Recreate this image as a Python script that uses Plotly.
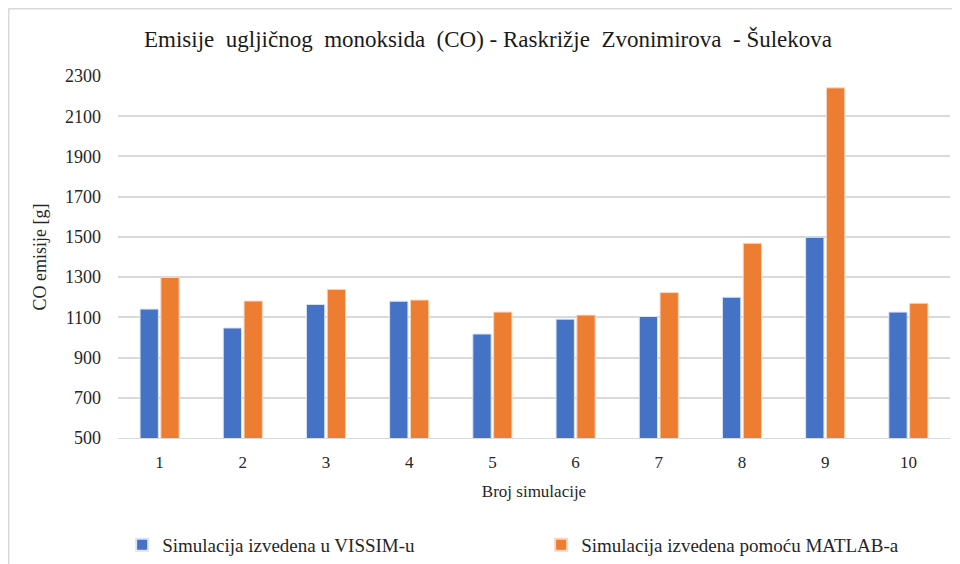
import plotly.graph_objects as go

categories = ["1", "2", "3", "4", "5", "6", "7", "8", "9", "10"]
vissim = [1141, 1047, 1164, 1180, 1017, 1091, 1104, 1200, 1498, 1126]
matlab = [1298, 1181, 1239, 1186, 1126, 1111, 1223, 1468, 2241, 1170]
series_names = ["Simulacija izvedena u VISSIM-u", "Simulacija izvedena pomoću MATLAB-a"]
y_ticks = [500, 700, 900, 1100, 1300, 1500, 1700, 1900, 2100, 2300]

FONT = "Liberation Serif"
fig = go.Figure()
fig.add_trace(go.Bar(x=categories, y=vissim, name=series_names[0], legendwidth=374,
                     marker=dict(color="#4472C4", line=dict(color="#dbe3f4", width=1))))
fig.add_trace(go.Bar(x=categories, y=matlab, name=series_names[1], legendwidth=330,
                     marker=dict(color="#ED7D31", line=dict(color="#f9d6bf", width=1))))

fig.update_layout(
    width=960, height=564,
    margin=dict(l=110, r=18, t=68, b=134),
    paper_bgcolor="white", plot_bgcolor="white",
    font=dict(family=FONT, color="#262626", size=17),
    title=dict(text="Emisije\u00a0 ugljičnog\u00a0 monoksida\u00a0 (CO)\u00a0- Raskrižje\u00a0 Zvonimirova\u00a0 - Šulekova",
               x=0.5, xanchor="center", y=0.946, yanchor="middle",
               font=dict(family=FONT, size=23, color="#1a1a1a")),
    barmode="group", bargap=0.5, bargroupgap=0.12,
    xaxis=dict(title=dict(text="Broj simulacije", font=dict(size=17), standoff=13),
               showgrid=False, showline=True, linecolor="#d9d9d9", linewidth=1,
               ticks="", tickfont=dict(size=17), ticklabelstandoff=9, automargin=False),
    yaxis=dict(title=dict(text="CO emisije [g]", font=dict(size=18), standoff=13),
               range=[500, 2300], tickvals=y_ticks, showgrid=True,
               gridcolor="#d9d9d9", gridwidth=1.5, zeroline=False, showline=False,
               ticks="", tickfont=dict(size=18), ticklabelstandoff=16, automargin=False),
    legend=dict(orientation="h", x=0.005, xanchor="left", xref="paper",
                y=0.0479, yanchor="middle", yref="container",
                font=dict(size=19), itemwidth=30, itemsizing="constant"),
    shapes=[
        dict(type="line", xref="paper", yref="paper", x0=-0.1316, x1=1.05, y0=1.1865, y1=1.1865,
             line=dict(color="#d9d9d9", width=2)),
        dict(type="line", xref="paper", yref="paper", x0=-0.1316, x1=-0.1316, y0=1.1865, y1=-0.4,
             line=dict(color="#d9d9d9", width=2)),
    ],
)
fig.write_html("out.html")
